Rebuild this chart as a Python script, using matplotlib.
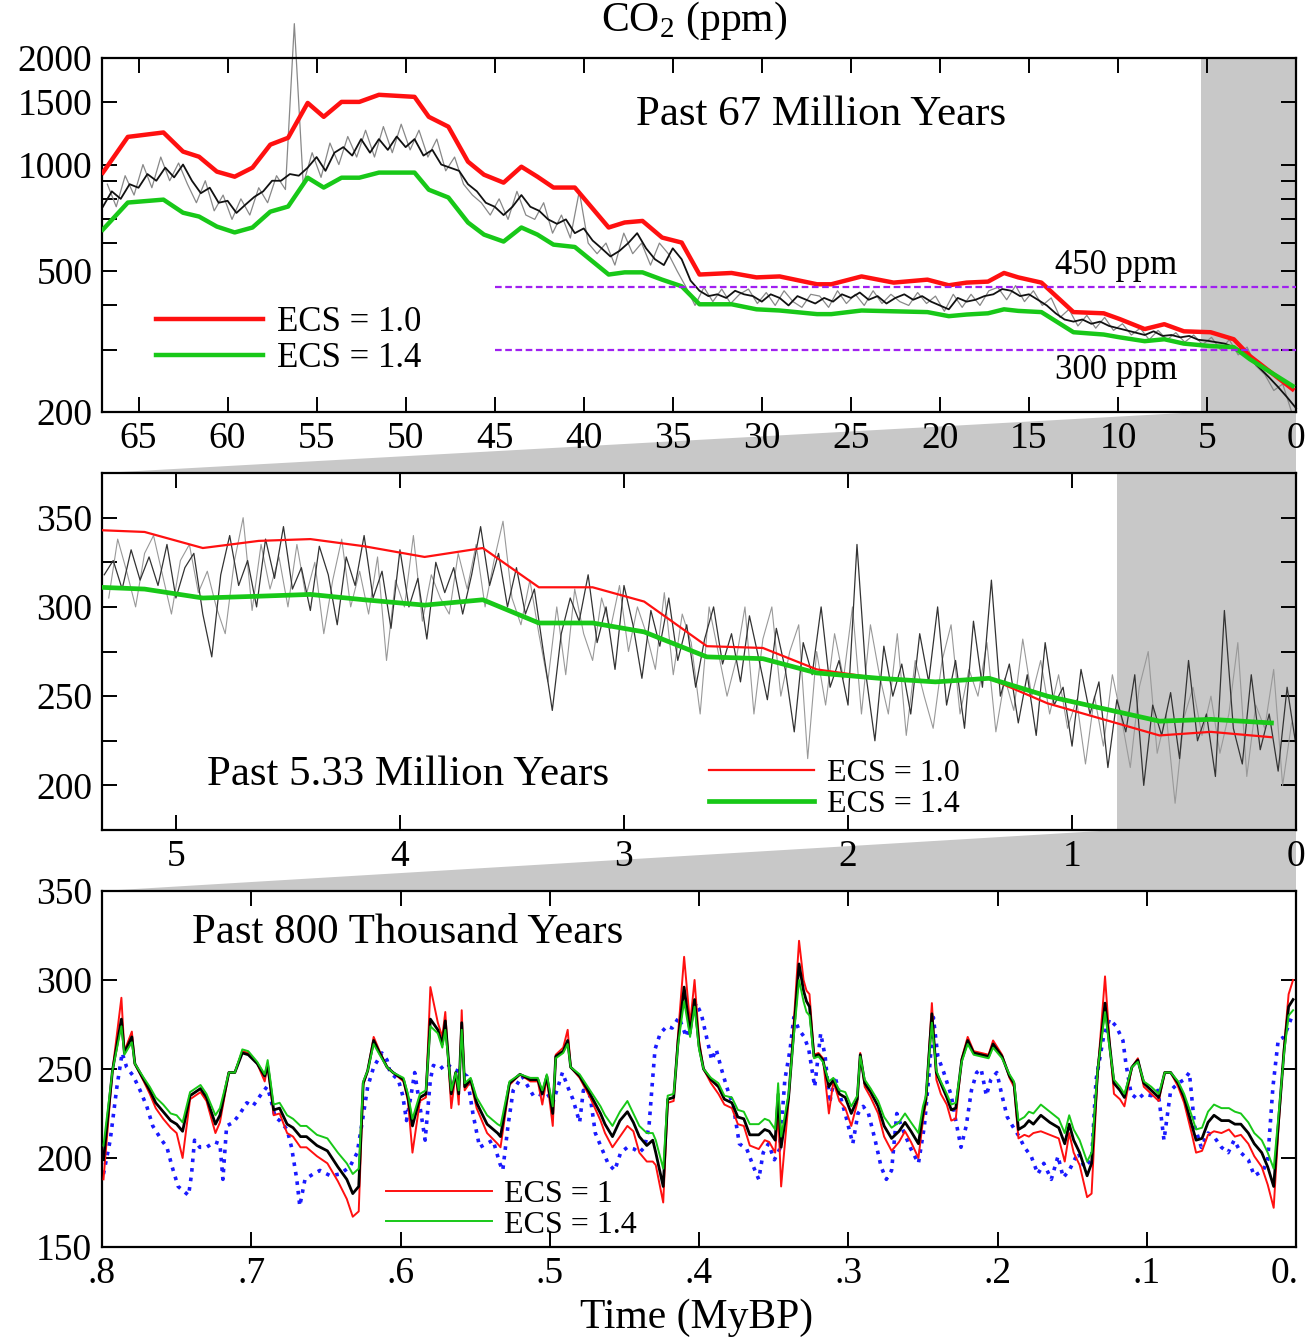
import numpy as np
import matplotlib
matplotlib.use('Agg')
import matplotlib.pyplot as plt
from matplotlib.patches import Polygon
from matplotlib.ticker import NullFormatter
from matplotlib.transforms import ScaledTranslation

plt.rcParams['font.family'] = 'Liberation Serif'
plt.rcParams['mathtext.fontset'] = 'custom'
plt.rcParams['mathtext.rm'] = 'Liberation Serif'

# ---- panel 1: past 67 My (log scale) ----
t67_model = [67, 65.6, 63.6, 62.5, 61.6, 60.6, 59.6, 58.6, 57.6, 56.6, 55.5, 54.6, 53.6, 52.6,
             51.5, 49.5, 48.7, 47.6, 46.5, 45.6, 44.5, 43.5, 42.6, 41.7, 40.5, 38.6, 37.7, 36.7,
             35.6, 34.5, 33.5, 31.7, 30.3, 29.0, 26.9, 26.1, 24.4, 22.6, 20.7, 19.5, 18.5, 17.3,
             16.4, 15.6, 14.3, 12.5, 10.8, 9.9, 8.5, 7.4, 6.3, 4.8, 3.5, 2.6, 0.2]
co2_67_ecs10 = [949, 1197, 1232, 1088, 1052, 955, 924, 980, 1138, 1190, 1493, 1364, 1503, 1503,
                1574, 1553, 1364, 1279, 1019, 936, 889, 986, 924, 861, 861, 664, 686, 693,
                622, 602, 489, 494, 480, 483, 459, 459, 483, 464, 473, 456, 464, 467,
                494, 480, 464, 383, 380, 366, 343, 354, 338, 336, 321, 288, 232]
co2_67_ecs14 = [655, 781, 796, 731, 713, 668, 643, 664, 736, 761, 918, 861, 918, 918,
                949, 949, 849, 807, 686, 634, 606, 664, 634, 594, 585, 489, 496, 496,
                473, 453, 403, 403, 390, 387, 378, 378, 387, 385, 383, 373, 377, 380,
                390, 386, 383, 336, 331, 325, 317, 321, 312, 307, 305, 282, 237]
co2_67_proxy = [760, 840, 800, 880, 860, 940, 900, 980, 920, 1000,
                900, 830, 860, 780, 790, 730, 770, 810, 840, 900,
                900, 940, 930, 980, 1050, 960, 1080, 1120, 1060, 1180,
                1080, 1180, 1100, 1200, 1120, 1180, 1060, 1100, 1000, 980,
                960, 880, 840, 780, 760, 720, 760, 820, 760, 740,
                700, 680, 700, 640, 660, 610, 580, 550, 570, 600,
                640, 580, 540, 520, 580, 540, 470, 440, 425, 430,
                420, 440, 430, 425, 410, 430, 420, 400, 425, 415,
                405, 420, 410, 430, 420, 435, 415, 425, 405, 420,
                430, 415, 425, 410, 400, 390, 420, 410, 415, 425,
                430, 445, 440, 425, 430, 415, 400, 380, 365, 360,
                365, 355, 360, 350, 345, 340, 335, 330, 338, 328,
                330, 325, 328, 320, 318, 315, 312, 305, 298, 280,
                265, 250, 235, 220, 205]
t67_proxy = np.linspace(67, 0, len(co2_67_proxy))
co2_67_proxy_b = [880, 760, 930, 820, 1000, 860, 1050, 900, 1010, 880,
                  780, 900, 740, 820, 700, 800, 720, 860, 780, 930,
                  850, 2500, 880, 1080, 920, 1150, 1000, 1200, 1050, 1250,
                  1050, 1280, 1080, 1300, 1100, 1250, 1050, 1180, 960, 1050,
                  880, 820, 780, 720, 800, 700, 840, 720, 700, 780,
                  640, 720, 620, 840, 600, 560, 600, 520, 640, 560,
                  600, 520, 600, 560, 500, 450, 400, 450, 410, 445,
                  405, 430, 445, 405, 435, 400, 440, 410, 395, 430,
                  425, 395, 440, 405, 430, 400, 440, 405, 430, 410,
                  400, 435, 405, 425, 385, 430, 395, 430, 400, 440,
                  450, 415, 455, 410, 440, 400, 420, 370, 390, 350,
                  375, 345, 370, 340, 355, 330, 345, 320, 340, 320,
                  335, 315, 330, 310, 325, 300, 320, 290, 305, 270,
                  255, 230, 240, 200]
t67_proxy_b = np.linspace(66.75, 0.25, len(co2_67_proxy_b))

# ---- panel 2: past 5.33 My ----
t5_model = [5.34, 5.14, 4.88, 4.63, 4.40, 4.16, 3.89, 3.63, 3.38, 3.14, 2.91, 2.63, 2.38,
            2.14, 1.86, 1.61, 1.37, 1.11, 0.61, 0.38, 0.11]
co2_5_ecs10 = [343, 342, 333, 337, 338, 334, 328, 333, 311, 311, 303, 278, 277,
               265, 260, 258, 260, 246, 228, 230, 227]
co2_5_ecs14 = [311, 310, 305, 306, 307, 304, 301, 304, 291, 291, 286, 272, 271,
               263, 260, 258, 260, 250, 236, 237, 235]
co2_5_proxy = [318, 326, 310, 332, 315, 328, 312, 335, 305, 322,
               330, 296, 272, 318, 340, 312, 326, 300, 338, 316,
               345, 310, 322, 298, 334, 318, 290, 328, 312, 340,
               305, 320, 288, 332, 300, 316, 282, 325, 308, 322,
               296, 318, 345, 312, 330, 300, 322, 296, 310, 275,
               242, 285, 305, 292, 318, 280, 300, 265, 312, 290,
               260, 298, 278, 305, 270, 290, 255, 282, 300, 268,
               285, 258, 295, 272, 248, 288, 265, 230, 280, 262,
               300, 255, 270, 245, 335, 262, 225, 278, 250, 268,
               240, 285, 258, 300, 245, 270, 232, 292, 255, 315,
               250, 268, 235, 262, 228, 280, 245, 255, 222, 265,
               240, 258, 210, 248, 230, 262, 200, 245, 228, 252,
               215, 270, 225, 240, 205, 298, 232, 212, 262, 220,
               240, 208, 255, 222]
t5_proxy = np.linspace(5.32, 0, len(co2_5_proxy))
co2_5_proxy_b = [305, 338, 320, 300, 330, 340, 318, 296, 326, 335,
                 308, 320, 300, 285, 325, 350, 298, 335, 310, 328,
                 300, 335, 306, 325, 285, 315, 338, 300, 320, 296,
                 328, 270, 315, 300, 340, 292, 318, 305, 296, 330,
                 310, 335, 300, 326, 348, 305, 290, 315, 285, 258,
                 300, 262, 310, 285, 270, 305, 288, 312, 275, 300,
                 285, 265, 308, 262, 296, 280, 240, 300, 275, 250,
                 270, 300, 240, 282, 300, 250, 275, 290, 215, 275,
                 245, 285, 260, 300, 240, 290, 262, 240, 285, 228,
                 270, 250, 232, 270, 290, 240, 265, 250, 280, 230,
                 260, 242, 282, 250, 270, 240, 262, 232, 248, 212,
                 250, 222, 262, 238, 210, 255, 275, 218, 240, 190,
                 238, 255, 228, 250, 218, 240, 280, 205, 245, 232,
                 265, 200, 235]
t5_proxy_b = np.linspace(5.30, 0.02, len(co2_5_proxy_b))

# ---- panel 3: past 800 ky ----
t800 = [0.799, 0.793, 0.787, 0.785, 0.780, 0.778, 0.772, 0.768, 0.764, 0.759,
        0.754, 0.750, 0.746, 0.741, 0.734, 0.730, 0.724, 0.721, 0.715, 0.711,
        0.706, 0.702, 0.696, 0.691, 0.689, 0.685, 0.681, 0.676, 0.672, 0.667,
        0.663, 0.656, 0.649, 0.642, 0.636, 0.632, 0.628, 0.625, 0.622, 0.618,
        0.614, 0.609, 0.605, 0.598, 0.595, 0.592, 0.587, 0.583, 0.580, 0.575,
        0.572, 0.570, 0.566, 0.563, 0.561, 0.559, 0.557, 0.553, 0.549, 0.542,
        0.535, 0.533, 0.527, 0.520, 0.513, 0.508, 0.505, 0.502, 0.498, 0.496,
        0.491, 0.488, 0.486, 0.480, 0.473, 0.466, 0.463, 0.458, 0.453, 0.448,
        0.444, 0.440, 0.435, 0.431, 0.429, 0.424, 0.421, 0.417, 0.414, 0.410,
        0.406, 0.403, 0.400, 0.397, 0.392, 0.387, 0.383, 0.378, 0.374, 0.370,
        0.366, 0.360, 0.356, 0.353, 0.349, 0.347, 0.345, 0.340, 0.337, 0.333,
        0.330, 0.328, 0.326, 0.323, 0.320, 0.317, 0.313, 0.310, 0.306, 0.302,
        0.298, 0.294, 0.292, 0.289, 0.285, 0.280, 0.276, 0.271, 0.266, 0.262,
        0.258, 0.253, 0.250, 0.248, 0.244, 0.241, 0.238, 0.234, 0.231, 0.228,
        0.224, 0.220, 0.216, 0.211, 0.206, 0.203, 0.197, 0.192, 0.189, 0.186,
        0.182, 0.179, 0.176, 0.171, 0.165, 0.159, 0.155, 0.152, 0.149, 0.145,
        0.140, 0.137, 0.133, 0.128, 0.125, 0.122, 0.118, 0.115, 0.110, 0.106,
        0.102, 0.097, 0.092, 0.088, 0.084, 0.079, 0.075, 0.070, 0.067, 0.063,
        0.059, 0.055, 0.050, 0.045, 0.041, 0.037, 0.032, 0.028, 0.023, 0.019,
        0.015, 0.012, 0.008, 0.005, 0.002]
co2_800_model = [199, 249, 278, 259, 268, 253, 244, 238, 231, 226,
                 221, 219, 215, 235, 239, 234, 219, 224, 248, 248,
                 259, 258, 253, 246, 252, 227, 228, 219, 217, 212,
                 212, 207, 204, 195, 188, 180, 184, 242, 249, 266,
                 259, 251, 248, 244, 234, 218, 234, 236, 278, 272,
                 264, 277, 236, 248, 236, 276, 240, 244, 231, 219,
                 214, 212, 242, 247, 244, 244, 236, 246, 225, 257,
                 260, 266, 251, 246, 236, 225, 219, 212, 221, 226,
                 220, 212, 207, 210, 203, 184, 233, 234, 266, 296,
                 270, 289, 263, 250, 244, 240, 233, 231, 223, 222,
                 213, 213, 216, 215, 210, 236, 206, 234, 266, 309,
                 294, 288, 285, 257, 258, 255, 240, 244, 236, 234,
                 225, 233, 258, 242, 237, 229, 218, 211, 215, 220,
                 215, 208, 225, 233, 281, 248, 242, 234, 227, 228,
                 255, 266, 259, 258, 257, 264, 257, 246, 242, 216,
                 218, 221, 219, 224, 220, 217, 208, 219, 210, 203,
                 190, 197, 248, 287, 264, 242, 238, 234, 251, 255,
                 242, 238, 234, 248, 248, 242, 234, 219, 210, 211,
                 220, 224, 221, 221, 219, 219, 214, 208, 203, 195,
                 184, 218, 261, 285, 289]
co2_800_ecs10 = [188, 249, 290, 260, 271, 253, 243, 236, 228, 222,
                 217, 214, 200, 233, 237, 232, 214, 220, 248, 248,
                 260, 259, 253, 243, 252, 224, 225, 214, 212, 206,
                 206, 201, 197, 187, 177, 167, 170, 241, 249, 268,
                 260, 251, 248, 243, 232, 203, 232, 234, 296, 276,
                 268, 282, 228, 248, 230, 283, 238, 243, 228, 214,
                 208, 206, 241, 247, 243, 243, 230, 245, 218, 258,
                 262, 272, 251, 245, 234, 221, 214, 206, 212, 218,
                 215, 203, 198, 198, 196, 175, 231, 232, 270, 313,
                 275, 300, 266, 250, 242, 236, 230, 228, 219, 218,
                 207, 205, 210, 209, 203, 226, 184, 232, 270, 322,
                 300, 294, 292, 258, 259, 256, 225, 243, 232, 228,
                 218, 231, 259, 240, 234, 225, 212, 204, 209, 215,
                 209, 200, 221, 231, 287, 244, 236, 230, 221, 222,
                 256, 268, 260, 259, 258, 266, 258, 245, 240, 211,
                 213, 212, 214, 215, 213, 211, 198, 214, 203, 196,
                 178, 180, 247, 302, 266, 236, 233, 229, 251, 256,
                 240, 236, 232, 248, 248, 240, 231, 214, 203, 204,
                 213, 215, 214, 216, 212, 213, 208, 201, 195, 185,
                 172, 214, 263, 292, 300]
co2_800_ecs14 = [207, 249, 274, 258, 265, 253, 245, 240, 234, 230,
                 225, 224, 220, 237, 241, 236, 224, 228, 248, 248,
                 261, 260, 254, 247, 255, 230, 231, 224, 222, 218,
                 218, 213, 211, 203, 197, 191, 194, 243, 249, 264,
                 258, 251, 248, 245, 236, 222, 236, 238, 274, 270,
                 262, 272, 238, 248, 238, 272, 242, 245, 234, 224,
                 219, 218, 243, 247, 245, 245, 238, 247, 229, 256,
                 259, 264, 251, 247, 238, 229, 224, 218, 226, 232,
                 225, 218, 214, 214, 210, 194, 235, 236, 264, 288,
                 268, 285, 261, 250, 245, 242, 235, 234, 227, 226,
                 219, 219, 222, 221, 216, 242, 212, 236, 264, 300,
                 288, 282, 280, 256, 257, 254, 243, 245, 238, 237,
                 229, 235, 257, 244, 239, 232, 223, 217, 220, 225,
                 220, 214, 229, 235, 276, 249, 243, 236, 230, 231,
                 254, 264, 258, 257, 256, 262, 256, 247, 243, 221,
                 223, 226, 225, 230, 226, 222, 214, 224, 216, 210,
                 198, 203, 249, 282, 262, 244, 240, 236, 251, 254,
                 243, 240, 236, 248, 248, 243, 236, 224, 216, 217,
                 226, 230, 228, 228, 226, 225, 220, 214, 210, 203,
                 194, 222, 259, 280, 283]
t800_ice = [0.799, 0.7945, 0.790, 0.7865, 0.7835, 0.779, 0.7745, 0.770, 0.766, 0.760,
            0.7565, 0.753, 0.749, 0.742, 0.740, 0.738, 0.7345, 0.730, 0.7245, 0.721,
            0.719, 0.7165, 0.712, 0.7075, 0.703, 0.699, 0.694, 0.6895, 0.6875, 0.684,
            0.681, 0.676, 0.673, 0.6695, 0.6675, 0.664, 0.6585, 0.654, 0.647, 0.6405,
            0.634, 0.629, 0.6255, 0.622, 0.618, 0.6125, 0.609, 0.607, 0.6015, 0.5985,
            0.596, 0.593, 0.5905, 0.587, 0.5835, 0.580, 0.578, 0.5735, 0.569, 0.565,
            0.559, 0.5555, 0.5515, 0.547, 0.5425, 0.538, 0.5335, 0.5315, 0.528, 0.5245,
            0.5185, 0.5145, 0.511, 0.508, 0.5045, 0.5015, 0.498, 0.4945, 0.4915, 0.488,
            0.4845, 0.480, 0.4775, 0.473, 0.4695, 0.4655, 0.461, 0.4565, 0.4525, 0.448,
            0.4435, 0.440, 0.4365, 0.4335, 0.4315, 0.4295, 0.426, 0.4215, 0.418, 0.4135,
            0.4085, 0.4065, 0.402, 0.3985, 0.395, 0.3915, 0.3885, 0.385, 0.3815, 0.377,
            0.373, 0.368, 0.3635, 0.360, 0.357, 0.3535, 0.3495, 0.346, 0.3425, 0.339,
            0.3365, 0.333, 0.3295, 0.3265, 0.3225, 0.3185, 0.3155, 0.3125, 0.309, 0.3055,
            0.3015, 0.297, 0.2935, 0.290, 0.2865, 0.282, 0.278, 0.2745, 0.271, 0.2675,
            0.2645, 0.258, 0.253, 0.249, 0.2455, 0.243, 0.240, 0.236, 0.231, 0.228,
            0.2245, 0.221, 0.2175, 0.214, 0.211, 0.2075, 0.2045, 0.2005, 0.197, 0.1935,
            0.190, 0.1855, 0.182, 0.1775, 0.173, 0.169, 0.164, 0.1595, 0.156, 0.152,
            0.146, 0.142, 0.137, 0.134, 0.129, 0.125, 0.1205, 0.116, 0.114, 0.1105,
            0.106, 0.102, 0.097, 0.0925, 0.0885, 0.084, 0.079, 0.075, 0.0715, 0.068,
            0.0635, 0.059, 0.055, 0.050, 0.0455, 0.0415, 0.037, 0.032, 0.028, 0.022,
            0.019, 0.0155, 0.012, 0.008, 0.003]
co2_800_ice = [191, 210, 240, 259, 251, 246, 238, 229, 218, 210,
               206, 195, 184, 179, 191, 210, 206, 206, 209, 208,
               188, 218, 220, 225, 231, 229, 235, 240, 235, 223,
               221, 216, 206, 188, 173, 188, 191, 193, 190, 191,
               195, 203, 221, 240, 251, 259, 255, 248, 244, 235,
               221, 235, 248, 229, 210, 244, 252, 250, 253, 250,
               248, 246, 225, 206, 208, 210, 197, 193, 218, 238,
               246, 240, 235, 236, 235, 236, 231, 240, 248, 240,
               233, 220, 238, 235, 214, 206, 197, 193, 203, 206,
               205, 203, 206, 218, 240, 261, 270, 274, 273, 279,
               268, 274, 287, 281, 268, 255, 261, 250, 240, 229,
               208, 205, 195, 188, 203, 208, 199, 205, 244, 261,
               279, 272, 268, 261, 240, 270, 257, 231, 246, 235,
               223, 208, 225, 229, 225, 210, 195, 188, 193, 225,
               218, 205, 197, 218, 251, 279, 257, 248, 235, 221,
               206, 218, 238, 248, 250, 235, 244, 248, 235, 223,
               218, 212, 206, 201, 191, 197, 188, 201, 189, 193,
               203, 195, 199, 244, 268, 278, 274, 266, 253, 236,
               233, 236, 235, 238, 210, 238, 242, 244, 248, 218,
               206, 214, 212, 206, 203, 210, 203, 199, 190, 193,
               199, 240, 266, 268, 279]

RED = '#ff1010'
GREEN = '#18c818'
SHADE = '#c8c8c8'

fig = plt.figure(figsize=(13.06, 13.42), dpi=100)
ax1 = fig.add_axes([0.0781, 0.6930, 0.9143, 0.2638])
ax2 = fig.add_axes([0.0781, 0.3815, 0.9143, 0.2660])
ax3 = fig.add_axes([0.0781, 0.0708, 0.9143, 0.2653])

for ax in (ax1, ax2, ax3):
    for s in ax.spines.values():
        s.set_linewidth(1.6)
    ax.tick_params(which='both', direction='in', top=True, right=True,
                   length=11, width=1.4, labelsize=27, pad=7)

# top panel
ax1.axvspan(5.33, 0, color=SHADE, lw=0, zorder=0)
ax1.plot(t67_proxy_b, co2_67_proxy_b, color='#888888', lw=0.9, zorder=2, clip_on=False)
ax1.plot(t67_proxy, co2_67_proxy, color='#111111', lw=1.3, zorder=2, clip_on=False)
ax1.plot(t67_model, co2_67_ecs10, color=RED, lw=3.2, zorder=3, label='ECS = 1.0')
ax1.plot(t67_model, co2_67_ecs14, color=GREEN, lw=3.2, zorder=3, label='ECS = 1.4')
ax1.hlines([450, 300], 45, 0, colors='#a020f0', linestyles=(0, (3, 1.6)), lw=1.6, zorder=4)
ax1.text(10.1, 520, '450 ppm', fontsize=25, ha='center', va='center')
ax1.text(10.1, 262, '300 ppm', fontsize=25, ha='center', va='center')
ax1.set_yscale('log')
ax1.set_xlim(67.05, 0)
ax1.set_ylim(200, 2000)
ax1.set_yticks([200, 500, 1000, 1500, 2000], labels=['200', '500', '1000', '1500', '2000'])
ax1.set_yticks([300, 400, 600, 700, 800, 900], minor=True)
ax1.yaxis.set_minor_formatter(NullFormatter())
ax1.set_xticks(range(65, -1, -5))
ax1.text(0.602, 0.839, 'Past 67 Million Years', transform=ax1.transAxes,
         fontsize=31, ha='center', va='center')
ax1.legend(loc='upper left', bbox_to_anchor=(0.045, 0.30), frameon=False, fontsize=25,
           handlelength=3.1, handletextpad=0.4, labelspacing=0.1, borderpad=0, borderaxespad=0)

# middle panel
ax2.axvspan(0.8, 0, color=SHADE, lw=0, zorder=0)
ax2.plot(t5_proxy_b, co2_5_proxy_b, color='#999999', lw=0.8, zorder=2, clip_on=False)
ax2.plot(t5_proxy, co2_5_proxy, color='#333333', lw=0.9, zorder=2, clip_on=False)
ax2.plot(t5_model, co2_5_ecs10, color=RED, lw=1.6, zorder=3, label='ECS = 1.0')
ax2.plot(t5_model, co2_5_ecs14, color=GREEN, lw=3.4, zorder=3, label='ECS = 1.4')
ax2.set_xlim(5.33, 0)
ax2.set_ylim(175, 375)
ax2.set_yticks([200, 250, 300, 350])
ax2.set_yticks([225, 275, 325, 375], minor=True)
ax2.set_xticks([5, 4, 3, 2, 1, 0])
ax2.text(0.256, 0.154, 'Past 5.33 Million Years', transform=ax2.transAxes,
         fontsize=31, ha='center', va='center')
ax2.legend(loc='upper left', bbox_to_anchor=(0.508, 0.20), frameon=False, fontsize=23,
           handlelength=3.3, handletextpad=0.4, labelspacing=0.05, borderpad=0, borderaxespad=0)

# bottom panel
ax3.plot(t800_ice, co2_800_ice, color='#1a1aff', lw=2.6, ls=':', zorder=2)
ax3.plot(t800, co2_800_ecs10, color=RED, lw=1.4, zorder=3, label='ECS = 1')
ax3.plot(t800, co2_800_model, color='black', lw=2.0, zorder=4)
ax3.plot(t800, co2_800_ecs14, color=GREEN, lw=1.4, zorder=5, label='ECS = 1.4')
ax3.set_xlim(0.8, 0)
ax3.set_ylim(150, 350)
ax3.set_yticks([150, 200, 250, 300, 350])
xt = [0.8, 0.7, 0.6, 0.5, 0.4, 0.3, 0.2, 0.1, 0.0]
ax3.set_xticks(xt, labels=['.8', '.7', '.6', '.5', '.4', '.3', '.2', '.1', '0.'])
# nudge the last label so it stays inside the figure
last = ax3.get_xticklabels()[-1]
last.set_transform(last.get_transform() + ScaledTranslation(-8 / 72, 0, fig.dpi_scale_trans))
ax3.text(0.256, 0.882, 'Past 800 Thousand Years', transform=ax3.transAxes,
         fontsize=31, ha='center', va='center')
ax3.legend(loc='upper left', bbox_to_anchor=(0.238, 0.19), frameon=False, fontsize=23,
           handlelength=3.3, handletextpad=0.4, labelspacing=0.05, borderpad=0, borderaxespad=0)

# grey zoom connectors between panels
inv = fig.transFigure.inverted()
def to_fig(ax, x, y):
    return inv.transform(ax.transData.transform((x, y)))

conn1 = [to_fig(ax1, 5.33, 200), to_fig(ax1, 0, 200), to_fig(ax2, 0, 375), to_fig(ax2, 5.33, 375)]
conn2 = [to_fig(ax2, 0.8, 175), to_fig(ax2, 0, 175), to_fig(ax3, 0, 350), to_fig(ax3, 0.8, 350)]
for pts in (conn1, conn2):
    fig.add_artist(Polygon(pts, closed=True, transform=fig.transFigure,
                           facecolor=SHADE, edgecolor='none', zorder=-1))

fig.text(694 / 1306, 1 - 21 / 1342, 'CO$_2$ (ppm)', fontsize=30, ha='center', va='center')
fig.text(697 / 1306, 1 - 1318 / 1342, 'Time (MyBP)', fontsize=30, ha='center', va='center')

fig.savefig('out.png', dpi=100)
